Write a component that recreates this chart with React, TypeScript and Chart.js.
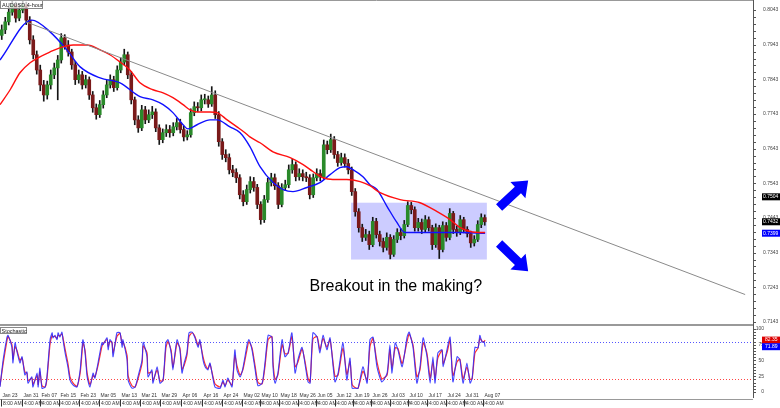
import React, { useEffect, useRef } from 'react';
import { Chart, registerables } from 'chart.js';
Chart.register(...registerables);

// ---------- DATA (one candle per trading day, x = candle index) ----------
const firstOpen = 0.797;
const closes = [
  0.7986, 0.8009, 0.8037, 0.8058, 0.802, 0.8043, 0.8058, 0.8014, 0.7957, 0.7914,
  0.787, 0.7827, 0.7798, 0.7827, 0.7856, 0.7876, 0.7899, 0.7963, 0.7942, 0.7922,
  0.7885, 0.7842, 0.7856, 0.7827, 0.7842, 0.7798, 0.7761, 0.7741, 0.777, 0.7798,
  0.7827, 0.7842, 0.7819, 0.787, 0.7893, 0.7914, 0.7856, 0.7784, 0.7726, 0.7703,
  0.7755, 0.7726, 0.7741, 0.7749, 0.7703, 0.7669, 0.7689, 0.7698, 0.7689, 0.7706,
  0.7718, 0.7698, 0.7677, 0.7683, 0.7747, 0.7764, 0.7761, 0.7784, 0.7784, 0.7772,
  0.7798, 0.7741, 0.7663, 0.7626, 0.7617, 0.7582, 0.7574, 0.7559, 0.751, 0.749,
  0.7525, 0.7548, 0.7531, 0.7482, 0.7438, 0.7496, 0.7545, 0.7559, 0.7536, 0.7482,
  0.7531, 0.7539, 0.7582, 0.7597, 0.7562, 0.7571, 0.7562, 0.7559, 0.751, 0.7559,
  0.7571, 0.7562, 0.7654, 0.764, 0.7669, 0.7626, 0.7603, 0.7617, 0.76, 0.7582,
  0.7519, 0.7461, 0.7415, 0.7387, 0.7395, 0.7366, 0.7433, 0.7395, 0.7375, 0.7358,
  0.7387, 0.7338, 0.7381, 0.7401, 0.7392, 0.7424, 0.7479, 0.7467, 0.7415, 0.743,
  0.741, 0.7438, 0.7415, 0.7366, 0.7415, 0.7352, 0.7421, 0.7387, 0.7456, 0.741,
  0.7401, 0.7438, 0.741, 0.7398, 0.7371, 0.7381, 0.7424, 0.7444, 0.7432,
];
const highs = [
  0.8, 0.8022, 0.8052, 0.8069, 0.8066, 0.806, 0.807, 0.8066, 0.8024, 0.7969,
  0.7925, 0.7884, 0.784, 0.7838, 0.787, 0.789, 0.7912, 0.7975, 0.7972, 0.7955,
  0.793, 0.7895, 0.787, 0.7866, 0.7855, 0.785, 0.7808, 0.7772, 0.7782, 0.781,
  0.784, 0.7856, 0.7852, 0.7882, 0.7905, 0.793, 0.7922, 0.7866, 0.7792, 0.7738,
  0.7768, 0.7765, 0.7755, 0.7765, 0.7758, 0.7712, 0.77, 0.7712, 0.771, 0.7718,
  0.773, 0.7728, 0.7708, 0.7695, 0.7758, 0.7778, 0.7776, 0.7798, 0.78, 0.7795,
  0.7822, 0.781, 0.775, 0.7672, 0.764, 0.7628, 0.7595, 0.7585, 0.7568, 0.7522,
  0.7538, 0.7562, 0.756, 0.754, 0.749, 0.7508, 0.7558, 0.7572, 0.757, 0.7545,
  0.7542, 0.7552, 0.7596, 0.7612, 0.7605, 0.7585, 0.7582, 0.7575, 0.7568, 0.757,
  0.7585, 0.7582, 0.7668, 0.7665, 0.7685, 0.7678, 0.7635, 0.763, 0.7628, 0.7612,
  0.759, 0.7528, 0.747, 0.7425, 0.741, 0.7405, 0.7445, 0.7442, 0.7405, 0.7385,
  0.74, 0.7395, 0.7392, 0.7412, 0.7412, 0.7436, 0.749, 0.7488, 0.7475, 0.7442,
  0.744, 0.745, 0.7446, 0.7422, 0.7426, 0.7422, 0.7432, 0.743, 0.747, 0.7462,
  0.742, 0.745, 0.7445, 0.7418, 0.7405, 0.7392, 0.7435, 0.7455, 0.7452,
];
const lows = [
  0.7958, 0.7975, 0.8, 0.8028, 0.8008, 0.8012, 0.8035, 0.8001, 0.7945, 0.7902,
  0.7858, 0.781, 0.778, 0.7786, 0.7815, 0.7845, 0.7784, 0.789, 0.793, 0.791,
  0.7872, 0.7828, 0.7832, 0.7815, 0.7818, 0.7785, 0.7748, 0.7728, 0.7733, 0.776,
  0.779, 0.7818, 0.7808, 0.7812, 0.7862, 0.7885, 0.7845, 0.7772, 0.7712, 0.769,
  0.7695, 0.7715, 0.7718, 0.773, 0.7692, 0.7655, 0.766, 0.7678, 0.7676, 0.768,
  0.7697, 0.7688, 0.7665, 0.7668, 0.7676, 0.7738, 0.775, 0.7752, 0.7772, 0.7762,
  0.7765, 0.773, 0.765, 0.7612, 0.7605, 0.757, 0.7562, 0.7545, 0.7498, 0.7478,
  0.7482, 0.7515, 0.752, 0.747, 0.7425, 0.743, 0.7488, 0.7535, 0.7525, 0.747,
  0.7475, 0.7522, 0.753, 0.7572, 0.755, 0.7552, 0.755, 0.7548, 0.7498, 0.7502,
  0.755, 0.755, 0.7555, 0.7628, 0.7632, 0.7615, 0.7592, 0.7595, 0.759, 0.757,
  0.7508, 0.7448, 0.7402, 0.7375, 0.7378, 0.7352, 0.736, 0.7385, 0.7362, 0.7345,
  0.735, 0.7325, 0.7332, 0.7372, 0.738, 0.7385, 0.7418, 0.7455, 0.7405, 0.7405,
  0.7398, 0.7402, 0.7405, 0.7352, 0.7358, 0.7326, 0.7345, 0.7376, 0.738, 0.7398,
  0.739, 0.7395, 0.74, 0.7388, 0.7358, 0.7362, 0.7375, 0.7415, 0.7422,
];

const blueMaX = [-0.5, 8.6, 13.8, 18.6, 22.4, 28.1, 33.8, 39.5, 43.2, 46.1, 48.9, 51.8, 53.2, 55.8, 59.5, 61.5, 65.2, 68.1, 70.9, 73.8, 77.5, 80.4, 83.2, 87.2, 90.9, 93.8, 96.6, 98.6, 100.4, 103.2, 105.2, 107.2, 110.1, 112.9, 115.2, 121.5, 130.9, 138.1];
const blueMa = [0.7899, 0.8014, 0.798, 0.7928, 0.7879, 0.7847, 0.7833, 0.7793, 0.7784, 0.777, 0.7747, 0.7712, 0.77, 0.7712, 0.7726, 0.7726, 0.7706, 0.7689, 0.7649, 0.7591, 0.7545, 0.7525, 0.7519, 0.7531, 0.7545, 0.7568, 0.7588, 0.7591, 0.7582, 0.7562, 0.7539, 0.7525, 0.7476, 0.743, 0.7401, 0.7401, 0.7401, 0.7399];

const redMaX = [-0.5, 2.4, 5.2, 8.1, 10.9, 13.8, 16.6, 20.4, 24.4, 28.1, 30.9, 33.8, 36.6, 39.5, 43.2, 46.1, 48.9, 51.8, 53.8, 55.8, 59.5, 61.5, 64.4, 67.2, 69.5, 70.9, 73.8, 77.5, 82.4, 86.1, 88.9, 91.8, 94.6, 98.6, 102.4, 105.2, 108.1, 113.8, 119.5, 124.4, 128.1, 131.0, 133.8, 137.5, 138.1];
const redMa = [0.777, 0.7813, 0.7862, 0.7891, 0.7908, 0.7922, 0.7934, 0.7942, 0.7942, 0.7928, 0.7914, 0.7893, 0.787, 0.7833, 0.7813, 0.7804, 0.779, 0.777, 0.7755, 0.7749, 0.7749, 0.7747, 0.7726, 0.7706, 0.7689, 0.7677, 0.766, 0.7634, 0.7617, 0.7597, 0.7577, 0.7559, 0.7554, 0.7554, 0.7548, 0.7536, 0.7516, 0.7496, 0.7487, 0.7461, 0.7438, 0.7415, 0.7404, 0.7401, 0.7401];

const trendX = [6.9, 212.4];
const trendY = [0.8009, 0.7222];

const boxX = [99.8, 138.6];
const boxY = [0.7487, 0.7323];

const upArrow = [[142.1, 0.7473], [150.4, 0.7551]];
const downArrow = [[142.1, 0.7369], [150.4, 0.7289]];
const noteAnchor = [112.6, 0.7245];
const noteText = 'Breakout in the making?';
const titleText = 'AUDUSD,4-hour';

const priceTicks = [0.8043, 0.7943, 0.7843, 0.7743, 0.7643, 0.7543, 0.7443, 0.7343, 0.7243, 0.7143];
const priceTagValues = [0.7504, 0.7432, 0.7399];

const dateLabels = ['Jan 23', 'Jan 31', 'Feb 07', 'Feb 15', 'Feb 23', 'Mar 05', 'Mar 13', 'Mar 21', 'Mar 29', 'Apr 06', 'Apr 16', 'Apr 24', 'May 02', 'May 10', 'May 18', 'May 26', 'Jun 05', 'Jun 12', 'Jun 19', 'Jun 26', 'Jul 03', 'Jul 10', 'Jul 17', 'Jul 24', 'Jul 31', 'Aug 07'];
const dateIdx = [-0.2, 5.8, 10.9, 16.4, 22.1, 27.8, 33.8, 39.5, 45.2, 51.2, 57.2, 62.9, 68.6, 73.9, 79.2, 84.5, 89.8, 95.1, 100.4, 105.6, 110.9, 116.2, 121.5, 126.8, 132.1, 137.4];
const firstTimeLabel = '8:00 AM';
const timeLabel = '4:00 AM';

const stochX = [
  -0.5, 0.4, 1.5, 1.8, 2.9, 3.2, 3.8, 4.4, 5.2, 5.8,
  6.6, 7.2, 7.5, 8.6, 8.9, 10.1, 10.4, 10.9, 11.5, 12.4,
  12.9, 13.8, 14.4, 14.6, 15.2, 15.8, 16.1, 16.6, 17.2, 17.5,
  18.1, 18.9, 19.5, 20.4, 21.5, 22.4, 22.9, 23.2, 23.8, 24.4,
  25.2, 26.1, 26.6, 27.5, 28.6, 28.9, 30.1, 30.4, 30.9, 31.5,
  31.8, 32.9, 33.8, 34.4, 34.6, 35.8, 36.1, 37.2, 38.1, 38.9,
  40.1, 40.4, 41.5, 41.8, 42.9, 43.2, 44.4, 45.2, 46.1, 46.9,
  47.5, 48.4, 48.9, 49.5, 50.1, 50.9, 51.5, 52.1, 52.9, 53.5,
  54.4, 55.2, 56.1, 56.6, 57.5, 58.1, 58.9, 59.5, 60.9, 62.4,
  63.2, 63.8, 64.6, 65.8, 66.6, 67.2, 68.1, 68.9, 70.1, 70.6,
  71.5, 72.4, 73.2, 74.4, 75.2, 76.1, 77.2, 77.5, 78.1, 78.9,
  80.1, 80.9, 81.8, 82.9, 83.8, 84.6, 85.8, 86.6, 87.5, 88.1,
  88.9, 90.1, 90.9, 91.8, 92.9, 93.8, 95.2, 96.1, 97.5, 98.6,
  99.5, 100.1, 100.9, 101.8, 103.2, 104.4, 105.2, 106.1, 107.2, 108.6,
  110.1, 110.9, 111.5, 112.4, 113.2, 114.4, 115.8, 116.4, 117.5, 118.6,
  119.5, 120.4, 121.5, 122.4, 123.2, 123.8, 124.6, 125.8, 126.1, 127.2,
  128.1, 128.9, 130.1, 130.9, 131.8, 132.9, 133.8, 134.4, 135.2, 136.1,
  136.6, 137.2, 137.8, 138.1,
];
const stochK = [
  8, 51, 87, 90, 71, 46, 78, 63, 46, 56,
  27, 32, 14, 24, 8, 30, 8, 38, 6, 8,
  24, 83, 94, 86, 90, 83, 94, 87, 95, 83,
  62, 40, 19, 11, 8, 35, 67, 83, 62, 24,
  8, 30, 22, 46, 78, 75, 86, 67, 83, 78,
  56, 94, 94, 71, 83, 51, 19, 6, 8, 24,
  51, 79, 56, 24, 35, 14, 40, 14, 19, 78,
  83, 62, 35, 62, 83, 67, 30, 46, 62, 94,
  95, 86, 71, 83, 51, 40, 35, 46, 8, 6,
  19, 8, 22, 8, 67, 35, 24, 38, 75, 83,
  67, 35, 10, 14, 46, 90, 87, 40, 14, 30,
  83, 56, 62, 94, 30, 51, 71, 46, 16, 14,
  94, 87, 62, 90, 67, 86, 16, 30, 78, 19,
  54, 6, 6, 6, 40, 14, 83, 87, 40, 16,
  30, 75, 30, 78, 67, 40, 87, 95, 71, 14,
  40, 86, 56, 14, 56, 14, 62, 67, 40, 67,
  87, 16, 56, 51, 14, 46, 14, 22, 71, 70,
  90, 79, 80, 71.89,
];
const stochD = [
  10, 45, 82, 88, 75, 52, 72, 65, 50, 54,
  32, 30, 18, 22, 12, 26, 12, 32, 10, 8,
  20, 76, 90, 88, 88, 85, 90, 89, 92, 86,
  68, 46, 24, 14, 9, 30, 60, 78, 66, 30,
  12, 26, 24, 42, 72, 76, 83, 72, 80, 79,
  62, 88, 93, 76, 80, 58, 26, 10, 8, 20,
  46, 73, 62, 30, 32, 18, 35, 18, 18, 70,
  80, 66, 40, 58, 78, 70, 36, 42, 58, 88,
  94, 88, 74, 80, 56, 44, 37, 44, 13, 8,
  16, 10, 19, 11, 58, 42, 27, 35, 68, 80,
  70, 41, 15, 13, 40, 83, 88, 48, 20, 27,
  75, 61, 61, 88, 40, 47, 68, 50, 22, 16,
  84, 88, 67, 85, 71, 83, 25, 27, 70, 28,
  48, 12, 7, 6, 33, 19, 72, 85, 48, 21,
  27, 67, 38, 70, 69, 45, 80, 92, 75, 24,
  35, 78, 61, 22, 48, 22, 54, 66, 45, 62,
  82, 26, 48, 52, 21, 40, 20, 21, 62, 70,
  85, 81, 80, 82.35,
];
const stochTicks = [100, 75, 50, 25, 0];
const stochLevels = [80, 20];
const stochTagValues = [82.35, 71.89];

// ---------- STYLE / LAYOUT ----------
const W = 780;
const MAIN_H = 324;
const STOCH_H = 84;
const AXIS_W = 27;
const X_MIN = -0.5;
const X_MAX = 214.64;
const FONT = '"Liberation Sans", Arial, sans-serif';
const BULL = '#2a8a2a';
const BEAR = '#7a1a1a';

function drawArrow(ctx: CanvasRenderingContext2D, x0: number, y0: number, x1: number, y1: number) {
  const dx = x1 - x0, dy = y1 - y0;
  const len = Math.hypot(dx, dy);
  const ux = dx / len, uy = dy / len;
  const nx = -uy, ny = ux;
  const headLen = 14, headW = 11, shaftW = 4.5;
  const bx = x1 - ux * headLen, by = y1 - uy * headLen;
  ctx.beginPath();
  ctx.moveTo(x0 + nx * shaftW, y0 + ny * shaftW);
  ctx.lineTo(bx + nx * shaftW, by + ny * shaftW);
  ctx.lineTo(bx + nx * headW, by + ny * headW);
  ctx.lineTo(x1, y1);
  ctx.lineTo(bx - nx * headW, by - ny * headW);
  ctx.lineTo(bx - nx * shaftW, by - ny * shaftW);
  ctx.lineTo(x0 - nx * shaftW, y0 - ny * shaftW);
  ctx.closePath();
  ctx.fill();
}

const mainDecor = {
  id: 'mainDecor',
  beforeDatasetsDraw(chart: any) {
    const { ctx, scales: { x, y } } = chart;
    ctx.save();
    const x0 = x.getPixelForValue(boxX[0]);
    const x1 = x.getPixelForValue(boxX[1]);
    const y0 = y.getPixelForValue(boxY[0]);
    const y1 = y.getPixelForValue(boxY[1]);
    ctx.fillStyle = '#ccccff';
    ctx.fillRect(x0, y0, x1 - x0, y1 - y0);
    ctx.restore();
  },
  afterDraw(chart: any) {
    const { ctx, scales: { x, y }, chartArea } = chart;
    const ax = chartArea.right;
    ctx.save();
    ctx.fillStyle = '#0000ff';
    for (const a of [upArrow, downArrow]) {
      drawArrow(ctx, x.getPixelForValue(a[0][0]), y.getPixelForValue(a[0][1]), x.getPixelForValue(a[1][0]), y.getPixelForValue(a[1][1]));
    }
    ctx.fillStyle = '#000';
    ctx.font = `16px ${FONT}`;
    ctx.textAlign = 'center';
    ctx.textBaseline = 'middle';
    ctx.fillText(noteText, x.getPixelForValue(noteAnchor[0]), y.getPixelForValue(noteAnchor[1]));
    ctx.font = `5.5px ${FONT}`;
    ctx.textAlign = 'left';
    ctx.fillStyle = 'rgba(255,255,255,0.75)';
    ctx.fillRect(0, 0, 43, 9);
    ctx.strokeStyle = '#888';
    ctx.lineWidth = 1;
    ctx.strokeRect(0.5, 0.5, 42, 8);
    ctx.fillStyle = '#222';
    ctx.fillText(titleText, 2, 5);
    ctx.strokeStyle = '#999';
    ctx.beginPath();
    ctx.moveTo(0, 0.5);
    ctx.lineTo(ax, 0.5);
    ctx.stroke();
    ctx.strokeStyle = '#555';
    ctx.beginPath();
    ctx.moveTo(ax + 0.5, 0);
    ctx.lineTo(ax + 0.5, chart.height);
    ctx.stroke();
    ctx.font = `5px ${FONT}`;
    ctx.textBaseline = 'middle';
    for (const t of priceTicks) {
      for (let k = 0; k < 5; k++) {
        const v = t - k * 0.002;
        if (v < y.min || v > y.max) continue;
        const py = Math.round(y.getPixelForValue(v)) + 0.5;
        ctx.beginPath();
        ctx.moveTo(ax, py);
        ctx.lineTo(ax + 3, py);
        ctx.stroke();
      }
      ctx.fillStyle = '#444';
      ctx.fillText(t.toFixed(4), ax + 10, y.getPixelForValue(t));
    }
    const tagColors = ['#000000', '#000000', '#0000ff'];
    priceTagValues.forEach((v, i) => {
      const py = y.getPixelForValue(v);
      ctx.fillStyle = tagColors[i];
      ctx.fillRect(ax + 9, py - 3.5, W - ax - 9, 7);
      ctx.fillStyle = '#fff';
      ctx.fillText(v.toFixed(4), ax + 10, py);
    });
    ctx.restore();
  },
};

const stochDecor = {
  id: 'stochDecor',
  beforeDatasetsDraw(chart: any) {
    const { ctx, scales: { y }, chartArea } = chart;
    ctx.save();
    ctx.setLineDash([1, 2]);
    ctx.lineWidth = 1;
    const cols = ['#5555ff', '#ff4444'];
    stochLevels.forEach((lv, i) => {
      const py = Math.round(y.getPixelForValue(lv)) + 0.5;
      ctx.strokeStyle = cols[i];
      ctx.beginPath();
      ctx.moveTo(chartArea.left, py);
      ctx.lineTo(chartArea.right, py);
      ctx.stroke();
    });
    ctx.restore();
  },
  afterDraw(chart: any) {
    const { ctx, scales: { x, y }, chartArea } = chart;
    const ax = chartArea.right;
    ctx.save();
    ctx.fillStyle = '#999';
    ctx.fillRect(0, 0, ax, 2);
    ctx.strokeStyle = '#555';
    ctx.lineWidth = 1;
    ctx.beginPath();
    ctx.moveTo(ax + 0.5, 0);
    ctx.lineTo(ax + 0.5, chartArea.bottom);
    ctx.stroke();
    for (let v = 0; v <= 100; v += 5) {
      const py = Math.round(y.getPixelForValue(v)) + 0.5;
      ctx.beginPath();
      ctx.moveTo(ax, py);
      ctx.lineTo(ax + 3, py);
      ctx.stroke();
    }
    ctx.font = `5px ${FONT}`;
    ctx.textBaseline = 'middle';
    ctx.textAlign = 'right';
    ctx.fillStyle = '#444';
    for (const t of stochTicks) ctx.fillText(String(t), ax + 11, y.getPixelForValue(t));
    ctx.textAlign = 'left';
    const tagColors = ['#dd0000', '#0000ff'];
    stochTagValues.forEach((v, i) => {
      const py = y.getPixelForValue(v);
      ctx.fillStyle = tagColors[i];
      ctx.fillRect(ax + 9, py - 3.5, W - ax - 9, 7);
      ctx.fillStyle = '#fff';
      ctx.fillText(v.toFixed(2), ax + 12, py);
    });
    ctx.font = `5.5px ${FONT}`;
    ctx.fillStyle = 'rgba(255,255,255,0.8)';
    ctx.fillRect(0, 3, 27, 7);
    ctx.strokeStyle = '#888';
    ctx.strokeRect(0.5, 3.5, 26, 6);
    ctx.fillStyle = '#222';
    ctx.fillText('Stochastic', 1.5, 7);
    const sepY = chartArea.bottom + 1.5;
    ctx.strokeStyle = '#999';
    ctx.beginPath();
    ctx.moveTo(0, sepY);
    ctx.lineTo(ax, sepY);
    ctx.stroke();
    ctx.font = `5px ${FONT}`;
    ctx.fillStyle = '#333';
    ctx.strokeStyle = '#333';
    dateIdx.forEach((d, i) => {
      const px = Math.round(x.getPixelForValue(d)) + 0.5;
      ctx.fillText(dateLabels[i], px + 1, chartArea.bottom - 2.5);
      ctx.beginPath();
      ctx.moveTo(px, sepY);
      ctx.lineTo(px, sepY + 7);
      ctx.stroke();
      ctx.fillText(i === 0 ? firstTimeLabel : timeLabel, px + 1.5, sepY + 4.5);
    });
    ctx.restore();
  },
};

export default function App() {
  const mainRef = useRef<HTMLCanvasElement>(null);
  const stochRef = useRef<HTMLCanvasElement>(null);

  useEffect(() => {
    document.body.style.margin = '0';
    const opens = closes.map((c, i) => (i === 0 ? firstOpen : closes[i - 1]));
    const wickData = closes.map((c, i) => ({ x: i, y: [lows[i], highs[i]] }));
    const bodyData = closes.map((c, i) => ({ x: i, y: [opens[i], c] }));
    const bodyColors = closes.map((c, i) => (c >= opens[i] ? BULL : BEAR));

    const main = new Chart(mainRef.current as HTMLCanvasElement, {
      type: 'bar',
      data: {
        datasets: [
          {
            type: 'line', label: 'trend',
            data: trendX.map((v, i) => ({ x: v, y: trendY[i] })),
            borderColor: '#8a8a8a', borderWidth: 1, pointRadius: 0, order: 0,
          } as any,
          {
            type: 'line', label: 'slow MA',
            data: redMaX.map((v, i) => ({ x: v, y: redMa[i] })),
            borderColor: '#ff1010', borderWidth: 1.4, pointRadius: 0,
            cubicInterpolationMode: 'monotone', order: 1,
          } as any,
          {
            type: 'line', label: 'fast MA',
            data: blueMaX.map((v, i) => ({ x: v, y: blueMa[i] })),
            borderColor: '#1010ff', borderWidth: 1.4, pointRadius: 0,
            cubicInterpolationMode: 'monotone', order: 2,
          } as any,
          {
            type: 'bar', label: 'body', data: bodyData as any,
            backgroundColor: bodyColors, barThickness: 3, grouped: false,
            minBarLength: 1, order: 3,
          } as any,
          {
            type: 'bar', label: 'wick', data: wickData as any,
            backgroundColor: '#151515', barThickness: 1, grouped: false, order: 4,
          } as any,
        ],
      },
      options: {
        animation: false,
        responsive: false,
        devicePixelRatio: 1,
        events: [],
        layout: { padding: { left: 0, top: 0, right: AXIS_W, bottom: 0 } },
        plugins: { legend: { display: false }, tooltip: { enabled: false } },
        scales: {
          x: { type: 'linear', min: X_MIN, max: X_MAX, display: false, offset: false },
          y: { type: 'linear', min: 0.7137, max: 0.8072, display: false },
        },
      } as any,
      plugins: [mainDecor],
    });

    const stoch = new Chart(stochRef.current as HTMLCanvasElement, {
      type: 'line',
      data: {
        datasets: [
          {
            label: 'signal', data: stochX.map((v, i) => ({ x: v, y: stochD[i] })),
            borderColor: '#ff3030', borderWidth: 1.2, pointRadius: 0, tension: 0.2, order: 1,
          },
          {
            label: 'main', data: stochX.map((v, i) => ({ x: v, y: stochK[i] })),
            borderColor: 'rgba(40,40,255,0.85)', borderWidth: 1.1, pointRadius: 0, tension: 0.2, order: 0,
          },
        ],
      },
      options: {
        animation: false,
        responsive: false,
        devicePixelRatio: 1,
        events: [],
        layout: { padding: { left: 0, top: 0, right: AXIS_W, bottom: 10 } },
        plugins: { legend: { display: false }, tooltip: { enabled: false } },
        scales: {
          x: { type: 'linear', min: X_MIN, max: X_MAX, display: false },
          y: { type: 'linear', min: -9.5, max: 107.9, display: false },
        },
      } as any,
      plugins: [stochDecor],
    });

    return () => {
      main.destroy();
      stoch.destroy();
    };
  }, []);

  return (
    <div style={{ position: 'absolute', left: 0, top: 0, width: W, height: MAIN_H + STOCH_H, background: '#fff' }}>
      <canvas ref={mainRef} width={W} height={MAIN_H} style={{ position: 'absolute', left: 0, top: 0, width: W, height: MAIN_H }} />
      <canvas ref={stochRef} width={W} height={STOCH_H} style={{ position: 'absolute', left: 0, top: MAIN_H, width: W, height: STOCH_H }} />
    </div>
  );
}
